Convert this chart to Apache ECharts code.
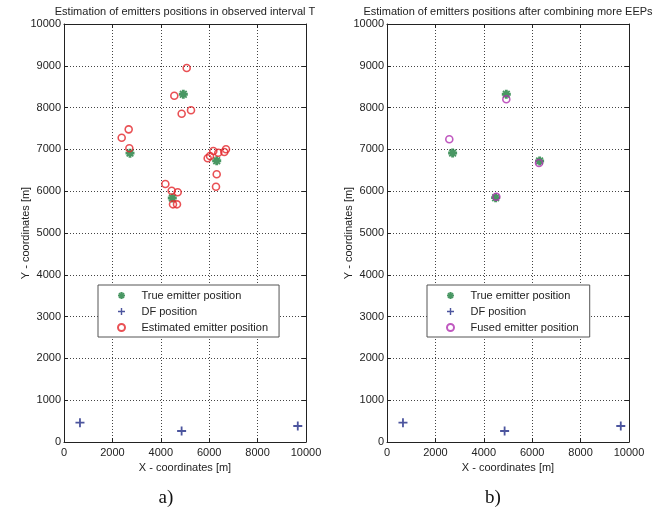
<!DOCTYPE html>
<html>
<head>
<meta charset="utf-8">
<script src="https://cdn.jsdelivr.net/npm/echarts@6/dist/echarts.min.js"></script>
<style>html,body{margin:0;padding:0;background:#fff;}#c{width:661px;height:510px;}</style>
</head>
<body>
<div id="c"></div>
<script>
// ---- data ----
const dfPositions = [[660, 462], [4860, 263], [9660, 383]];
const trueEmittersA = [[4930, 8318], [2727, 6910], [6310, 6730], [4475, 5837]];
const estimatedEmitters = [
  [5070, 8947], [4558, 8285], [4862, 7854], [5248, 7935],
  [2673, 7480], [2384, 7280], [2700, 7026],
  [5937, 6787], [6033, 6842], [6170, 6962], [6376, 6921], [6624, 6938], [6694, 7002],
  [6310, 6404], [6281, 6108],
  [4188, 6172], [4450, 6012], [4698, 5974], [4504, 5686], [4669, 5686]
];
const trueEmittersB = [[4930, 8318], [2711, 6914], [6306, 6722], [4488, 5845]];
const fusedEmitters = [[4930, 8199], [2574, 7242], [6281, 6675], [4517, 5869]];
const xTicks = [0, 2000, 4000, 6000, 8000, 10000];
const yTicks = [0, 1000, 2000, 3000, 4000, 5000, 6000, 7000, 8000, 9000, 10000];
const titles = ['Estimation of emitters positions in observed interval T',
                'Estimation of emitters positions after combining more EEPs'];
const captions = ['a)', 'b)'];
const legendA = ['True emitter position', 'DF position', 'Estimated emitter position'];
const legendB = ['True emitter position', 'DF position', 'Fused emitter position'];

// ---- styling ----
const FONT = 'Arial, "Liberation Sans", sans-serif';
const plusPath = 'path://M4,0H6V4H10V6H6V10H4V6H0V4H4Z';
const starPath = 'path://M3.4,0H6.6V3.4H10V6.6H6.6V10H3.4V6.6H0V3.4H3.4Z M2,0.6L9.4,8L8,9.4L0.6,2Z M8,0.6L9.4,2L2,9.4L0.6,8Z';
const GREEN = '#1c7d3c', NAVY = '#1f2b86', RED = '#e3262b', MAGENTA = '#b02fb0';
const plain = v => String(v);

const grids = [
  {left: 64, top: 24, width: 242, height: 418},
  {left: 387, top: 24, width: 242, height: 418}
];
const xStep = xTicks[1] - xTicks[0];
const yStep = yTicks[1] - yTicks[0];
function mainX(gi) {
  return {
    type: 'value', gridIndex: gi, position: 'bottom',
    min: xTicks[0], max: xTicks[xTicks.length - 1], interval: xStep,
    name: 'X - coordinates [m]', nameLocation: 'middle', nameGap: 20, nameMoveOverlap: false,
    nameTextStyle: {fontFamily: FONT, fontSize: 11, color: '#222'},
    axisLine: {show: true, lineStyle: {color: '#222', width: 1}},
    axisTick: {show: true, inside: true, length: 4, lineStyle: {color: '#222'}},
    axisLabel: {fontFamily: FONT, fontSize: 11, color: '#222', margin: 5, formatter: plain},
    splitLine: {show: true, lineStyle: {color: '#444', type: [1, 2], width: 1}}
  };
}
function topX(gi) {
  return {
    type: 'value', gridIndex: gi, position: 'top',
    min: xTicks[0], max: xTicks[xTicks.length - 1], interval: xStep,
    axisLine: {show: true, onZero: false, lineStyle: {color: '#222', width: 1}},
    axisTick: {show: true, inside: true, length: 4, lineStyle: {color: '#222'}},
    axisLabel: {show: false}, splitLine: {show: false}
  };
}
function mainY(gi) {
  return {
    type: 'value', gridIndex: gi, position: 'left',
    min: yTicks[0], max: yTicks[yTicks.length - 1], interval: yStep,
    name: 'Y - coordinates [m]', nameLocation: 'middle', nameGap: 33, nameMoveOverlap: false,
    nameTextStyle: {fontFamily: FONT, fontSize: 11, color: '#222'},
    axisLine: {show: true, lineStyle: {color: '#222', width: 1}},
    axisTick: {show: true, inside: true, length: 4, lineStyle: {color: '#222'}},
    axisLabel: {fontFamily: FONT, fontSize: 11, color: '#222', margin: 3, formatter: plain},
    splitLine: {show: true, lineStyle: {color: '#444', type: [1, 2], width: 1}}
  };
}
function rightY(gi) {
  return {
    type: 'value', gridIndex: gi, position: 'right',
    min: yTicks[0], max: yTicks[yTicks.length - 1], interval: yStep,
    axisLine: {show: true, onZero: false, lineStyle: {color: '#222', width: 1}},
    axisTick: {show: true, inside: true, length: 4, lineStyle: {color: '#222'}},
    axisLabel: {show: false}, splitLine: {show: false}
  };
}
function trueSeries(data, ax) {
  return {name: 'True emitter position', type: 'scatter', xAxisIndex: ax, yAxisIndex: ax,
    data: data, symbol: starPath, symbolSize: 9, itemStyle: {color: GREEN}, z: 3};
}
function dfSeries(data, ax) {
  return {name: 'DF position', type: 'scatter', xAxisIndex: ax, yAxisIndex: ax,
    data: data, symbol: plusPath, symbolSize: 9, itemStyle: {color: NAVY}, z: 3};
}
function ringSeries(name, data, ax, col) {
  return {name: name, type: 'scatter', xAxisIndex: ax, yAxisIndex: ax,
    data: data, symbol: 'circle', symbolSize: 7,
    itemStyle: {color: 'rgba(255,255,255,0)', borderColor: col, borderWidth: 1.6}, z: 4};
}
function legend(names, left) {
  return {
    data: names, orient: 'vertical', left: left, top: 285,
    itemWidth: 30, itemHeight: 7, itemGap: 5, padding: [5, 11, 4, 19],
    backgroundColor: '#fff', borderColor: '#555', borderWidth: 1,
    textStyle: {fontFamily: FONT, fontSize: 11, color: '#222'},
    selectedMode: false
  };
}

const option = {
  animation: false,
  backgroundColor: '#fff',
  title: [
    {text: titles[0], left: 185, top: 6, textAlign: 'center', padding: 0,
     textStyle: {fontFamily: FONT, fontSize: 11, fontWeight: 'normal', color: '#222'}},
    {text: titles[1], left: 508, top: 6, textAlign: 'center', padding: 0,
     textStyle: {fontFamily: FONT, fontSize: 11, fontWeight: 'normal', color: '#222'}},
    {text: captions[0], left: 166, top: 489, textAlign: 'center', padding: 0,
     textStyle: {fontFamily: '"Liberation Serif", "Times New Roman", serif', fontSize: 19, fontWeight: 'normal', color: '#111'}},
    {text: captions[1], left: 493, top: 489, textAlign: 'center', padding: 0,
     textStyle: {fontFamily: '"Liberation Serif", "Times New Roman", serif', fontSize: 19, fontWeight: 'normal', color: '#111'}}
  ],
  grid: grids,
  xAxis: [mainX(0), topX(0), mainX(1), topX(1)],
  yAxis: [mainY(0), rightY(0), mainY(1), rightY(1)],
  legend: [legend(legendA, 98), legend(legendB, 427)],
  series: [
    trueSeries(trueEmittersA, 0),
    dfSeries(dfPositions, 0),
    ringSeries(legendA[2], estimatedEmitters, 0, RED),
    trueSeries(trueEmittersB, 2),
    dfSeries(dfPositions, 2),
    ringSeries(legendB[2], fusedEmitters, 2, MAGENTA)
  ]
};
const chart = echarts.init(document.getElementById('c'), null, {renderer: 'canvas'});
chart.setOption(option);
</script>
</body>
</html>
